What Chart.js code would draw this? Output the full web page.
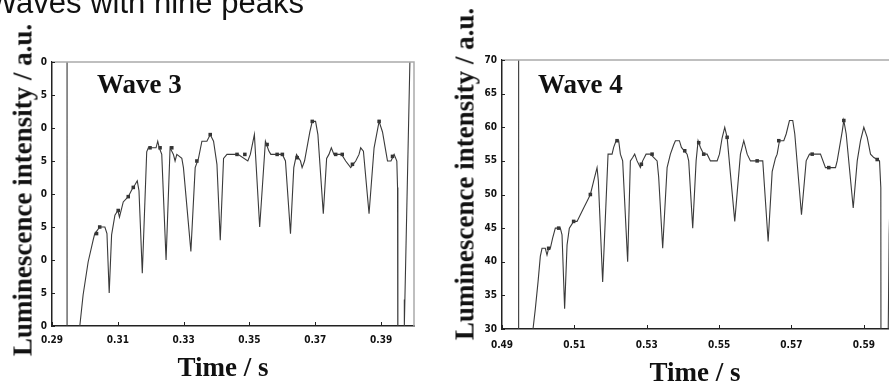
<!DOCTYPE html>
<html>
<head>
<meta charset="utf-8">
<script src="https://cdn.jsdelivr.net/npm/chart.js@4.4.1/dist/chart.umd.min.js"></script>
<style>
  html, body { margin: 0; padding: 0; background: #fff; overflow: hidden; width: 889px; height: 384px; }
  #page { position: relative; width: 889px; height: 384px; overflow: hidden; }
  canvas { position: absolute; top: 0; }
  .txt { position: absolute; white-space: nowrap; line-height: 1; color: #111; }
  .serif { font-family: "Liberation Serif", "Times New Roman", serif; font-weight: bold; font-size: 27px; }
  .ytitle { transform: translate(-50%, -50%) rotate(-90deg); }
  .xtitle { transform: translateX(-50%); }
</style>
</head>
<body>
<div id="page">
  <canvas id="wave3" width="445" height="384" style="left:0"></canvas>
  <canvas id="wave4" width="480" height="384" style="left:445px"></canvas>

  <div class="txt" style="left:-12px; top:-13px; font-family:'Liberation Sans', Arial, sans-serif; font-size:31px;">Waves with nine peaks</div>

  <div class="txt serif" style="left:97px; top:71px;">Wave 3</div>
  <div class="txt serif" style="left:538px; top:71px;">Wave 4</div>

  <div class="txt serif ytitle" style="left:23px; top:190px;">Luminescence intensity / a.u.</div>
  <div class="txt serif ytitle" style="left:465px; top:174px;">Luminescence intensity / a.u.</div>

  <div class="txt serif xtitle" style="left:223px; top:354px;">Time / s</div>
  <div class="txt serif xtitle" style="left:695px; top:359px;">Time / s</div>
</div>

<script>
// Wave 3 (panneau gauche)
const wave3Time = [
  0.29457, 0.29458, 0.29845, 0.29945, 0.30098, 0.3025, 0.3030, 0.30454, 0.30607, 0.3067,
  0.30738, 0.30811, 0.30912, 0.31003, 0.3105, 0.31165, 0.31317, 0.31421, 0.31521, 0.31591,
  0.31643, 0.31744, 0.31878, 0.31927, 0.32162, 0.32213, 0.3226, 0.32335, 0.32466, 0.32588,
  0.32689, 0.3274, 0.32793, 0.32945, 0.32994, 0.3322, 0.33351, 0.33451, 0.33555, 0.33707,
  0.33808, 0.33909, 0.34012, 0.34113, 0.34213, 0.34317, 0.3465, 0.3495, 0.35027, 0.3515,
  0.35311, 0.35485, 0.3559, 0.3565, 0.3600, 0.36094, 0.36247, 0.36347, 0.3643, 0.36552,
  0.3660, 0.36674, 0.36835, 0.36909, 0.37009, 0.3708, 0.37244, 0.37345, 0.37415, 0.37488,
  0.37568, 0.3780, 0.37924, 0.38076, 0.38229, 0.38329, 0.3838, 0.38463, 0.38634, 0.38787,
  0.38939, 0.39043, 0.39143, 0.39195, 0.3930, 0.39396, 0.39478, 0.3950, 0.3951, 0.3970,
  0.39702, 0.39705, 0.39712, 0.39875, 0.3991
];
const wave3Value = [
  80, 20, 30, 34.7, 39.7, 43, 44, 45, 45, 44,
  35, 43.8, 46.8, 47.5, 46.5, 48.8, 49.6, 50.6, 51.4, 52,
  50.5, 38, 56.4, 57, 57, 58, 57, 56, 40, 57,
  56, 55, 56, 55.4, 54, 41.3, 54, 55.4, 58, 58,
  59, 58, 54.5, 43, 55.4, 56, 56, 55, 56, 59,
  45, 58, 56.5, 56, 56, 55, 44, 54, 56, 55,
  54, 55, 59.4, 61, 61, 59, 47, 55.4, 56, 57,
  56, 56, 55, 54, 55, 56, 57, 56.5, 47, 57,
  61, 59.4, 56.5, 55, 55, 56, 55, 51, 20, 20,
  34, 20, 30, 70, 76
];
// petits blocs sombres visibles sur la trace
const wave3MarkTime = [
  0.30354, 0.3045, 0.31012, 0.31317, 0.3147, 0.31979, 0.32284, 0.3264, 0.33402, 0.33808,
  0.34622, 0.3486, 0.35536, 0.35841, 0.3600, 0.36451, 0.36909, 0.3762, 0.3782, 0.38129,
  0.3894, 0.39347
];
const wave3MarkValue = [
  44, 45, 47.5, 49.6, 51, 57, 57, 57, 55, 59,
  56, 56, 57.5, 56, 56, 55.5, 61, 56, 56, 54.5,
  61, 55.7
];

// Wave 4 (panneau droit)
const wave4Time = [
  0.49459, 0.4946, 0.49857, 0.49921, 0.49996, 0.50059, 0.50106, 0.50197, 0.50244, 0.50289,
  0.50336, 0.50399, 0.50474, 0.50612, 0.50659, 0.50731, 0.50798, 0.50861, 0.5098, 0.51074,
  0.51165, 0.51257, 0.51351, 0.51442, 0.51533, 0.51627, 0.51663, 0.51782, 0.51931, 0.52042,
  0.52086, 0.52153, 0.52225, 0.52272, 0.52335, 0.52473, 0.52548, 0.52612, 0.52667, 0.52733,
  0.52825, 0.52888, 0.52982, 0.53101, 0.53287, 0.5333, 0.53441, 0.53563, 0.53654, 0.53746,
  0.53793, 0.53903, 0.53959, 0.54116, 0.5416, 0.54271, 0.54365, 0.5442, 0.54484, 0.54575,
  0.54669, 0.5476, 0.54946, 0.5501, 0.55083, 0.55156, 0.55222, 0.55433, 0.5559, 0.55682,
  0.55776, 0.55867, 0.56143, 0.56207, 0.56356, 0.56467, 0.56558, 0.56605, 0.56669, 0.56788,
  0.56854, 0.56945, 0.57036, 0.57092, 0.57277, 0.57407, 0.57498, 0.57802, 0.5794, 0.58217,
  0.58264, 0.58328, 0.58403, 0.58447, 0.58513, 0.58707, 0.58818, 0.58909, 0.5900, 0.59094,
  0.59185, 0.59277, 0.59434, 0.5947, 0.59475, 0.5966, 0.59675, 0.5970, 0.5975
];
const wave4Value = [
  80, 20, 30, 33, 37, 40.8, 42, 42, 41, 42,
  42, 43.5, 45, 45, 44, 33, 42.5, 45, 46, 46,
  47, 48, 49, 50, 52, 54, 52, 37, 56, 56,
  57, 58, 58, 56, 55, 40, 55, 55.5, 56, 55,
  54, 55, 56, 56, 55, 52.6, 42, 54, 56, 57.4,
  58, 58, 57, 56, 55, 45, 55, 58, 57, 56,
  56, 55, 55, 56, 58.4, 60, 58.5, 46, 56, 58,
  56, 55, 55, 55, 43, 53.4, 55.4, 56, 58, 58,
  59, 61, 61, 59, 47, 55, 56, 56, 54, 54,
  55, 57, 59.4, 61, 59, 48, 55, 58, 60, 58.5,
  56, 55.5, 55, 51, 20, 20, 30, 44, 55
];
const wave4MarkTime = [
  0.50289, 0.50566, 0.5098, 0.51442, 0.5218, 0.52852, 0.53148, 0.5405, 0.54437, 0.54575,
  0.55222, 0.56052, 0.5665, 0.57573, 0.58032, 0.58447, 0.5937
];
const wave4MarkValue = [
  42, 45, 46, 50, 58, 54.5, 56, 56.5, 57.7, 56,
  58.5, 55, 58, 56, 54, 61, 55.2
];

// Axes
const wave3XTicks = [0.29, 0.31, 0.33, 0.35, 0.37, 0.39];
const wave4XTicks = [0.49, 0.51, 0.53, 0.55, 0.57, 0.59];
const yTicks = [30, 35, 40, 45, 50, 55, 60, 65, 70];
const wave3YLabels = ['0', '5', '0', '5', '0', '5', '0', '5', '0'];
const wave4YLabels = ['30', '35', '40', '45', '50', '55', '60', '65', '70'];

const tickFont = { family: '"Liberation Sans Narrow", "Arial Narrow", "DejaVu Sans Condensed", sans-serif', size: 10, weight: 'bold' };

// Cadre gris en haut / à droite et petites graduations vers l'intérieur
const frameTicks = {
    id: 'frameTicks',
    afterDatasetsDraw(chart) {
        const { ctx, chartArea: a, scales: { x, y } } = chart;
        ctx.save();
        ctx.strokeStyle = '#ababab';
        ctx.lineWidth = 1.5;
        ctx.beginPath();
        ctx.moveTo(a.left, a.top);
        ctx.lineTo(a.right, a.top);
        ctx.lineTo(a.right, a.bottom);
        ctx.stroke();

        ctx.strokeStyle = '#222';
        ctx.lineWidth = 1;
        ctx.beginPath();
        x.ticks.forEach(t => {
            const px = Math.round(x.getPixelForValue(t.value)) + 0.5;
            ctx.moveTo(px, a.bottom);
            ctx.lineTo(px, a.bottom - 4);
        });
        y.ticks.forEach(t => {
            const py = Math.round(y.getPixelForValue(t.value)) + 0.5;
            ctx.moveTo(a.left, py);
            ctx.lineTo(a.left + 3, py);
        });
        ctx.stroke();
        ctx.restore();
    }
};

function makeWave(id, times, values, markTimes, markValues, xMin, xMax, xTicks, yLabels, box) {
    const ctx = document.getElementById(id);
    return new Chart(ctx, {
        type: 'line',
        data: {
            datasets: [{
                data: times.map((t, i) => ({ x: t, y: values[i] })),
                borderColor: '#3a3a3a',
                borderWidth: 1.1,
                pointRadius: 0,
                tension: 0,
                clip: 0
            }, {
                data: markTimes.map((t, i) => ({ x: t, y: markValues[i] })),
                showLine: false,
                pointStyle: 'rect',
                pointRadius: 2.5,
                pointBorderWidth: 0,
                pointBackgroundColor: '#333',
                clip: 0
            }]
        },
        options: {
            responsive: false,
            animation: false,
            events: [],
            layout: { padding: { left: 0, top: box.top, right: box.right, bottom: 0 } },
            plugins: { legend: { display: false }, tooltip: { enabled: false } },
            scales: {
                x: {
                    type: 'linear',
                    min: xMin,
                    max: xMax,
                    afterBuildTicks: s => { s.ticks = xTicks.map(v => ({ value: v })); },
                    afterFit: s => { s.height = box.xHeight; },
                    grid: { display: false, drawTicks: false },
                    border: { display: true, color: '#222', width: 1.5 },
                    ticks: {
                        color: '#111',
                        font: tickFont,
                        padding: box.xPad,
                        maxRotation: 0,
                        callback: v => v.toFixed(2)
                    }
                },
                y: {
                    type: 'linear',
                    min: 30,
                    max: 70,
                    afterBuildTicks: s => { s.ticks = yTicks.map(v => ({ value: v })); },
                    afterFit: s => { s.width = box.yWidth; },
                    grid: { display: false, drawTicks: false },
                    border: { display: true, color: '#222', width: 1.5 },
                    ticks: {
                        color: '#111',
                        font: tickFont,
                        padding: 5,
                        callback: (v, i) => yLabels[i]
                    }
                }
            }
        },
        plugins: [frameTicks]
    });
}

makeWave('wave3', wave3Time, wave3Value, wave3MarkTime, wave3MarkValue, 0.29, 0.40,
    wave3XTicks, wave3YLabels, { top: 62, right: 31, xHeight: 58, yWidth: 52, xPad: 8 });
makeWave('wave4', wave4Time, wave4Value, wave4MarkTime, wave4MarkValue, 0.49, 0.60,
    wave4XTicks, wave4YLabels, { top: 60, right: 25, xHeight: 55, yWidth: 57, xPad: 10 });
</script>
</body>
</html>
